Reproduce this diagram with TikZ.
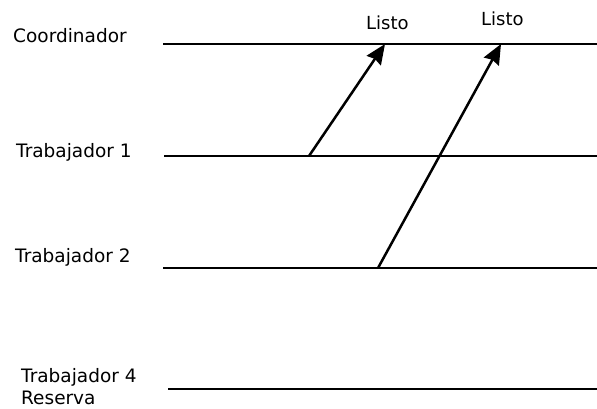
\documentclass[tikz,border=0pt]{standalone}
\usepackage{fontspec}
\setmainfont{DejaVu Sans}
\usetikzlibrary{arrows.meta}
\tikzset{proc/.style={line width=2.5pt},
  msg/.style={line width=2.5pt,-{Stealth[length=20pt,width=17pt,inset=2pt]}},
  lbl/.style={font=\fontsize{18.5}{22}\selectfont,inner sep=0pt,anchor=base west},
  ack/.style={font=\fontsize{18}{20}\selectfont,inner sep=0pt,anchor=base west}}

\begin{document}
\begin{tikzpicture}[x=1pt,y=-1pt]
  \useasboundingbox (0,0) rectangle (597,408);

  \node[lbl] (co) at (13,42.3) {Coordinador};
  \node[lbl] (w1) at (16,157.3) {Trabajador 1};
  \node[lbl] (w2) at (15,262.7) {Trabajador 2};
  \node[lbl,align=left] (w4) at (21,404) {Trabajador 4\\Reserva};

  \coordinate (co-a) at (163,44);  \coordinate (co-b) at (597,44);
  \coordinate (w1-a) at (164,156); \coordinate (w1-b) at (597,156);
  \coordinate (w2-a) at (163,268); \coordinate (w2-b) at (597,268);
  \coordinate (w4-a) at (168,389); \coordinate (w4-b) at (597,389);

  \draw[proc] (co-a) -- (co-b);
  \draw[proc] (w1-a) -- (w1-b);
  \draw[proc] (w2-a) -- (w2-b);
  \draw[proc] (w4-a) -- (w4-b);

  % ready messages to the coordinator
  \coordinate (s1) at (309,156);  \coordinate (r1) at (385,44);
  \coordinate (s2) at (378,268);  \coordinate (r2) at (501,44);
  \draw[msg] (s1) -- (r1);
  \draw[msg] (s2) -- (r2);

  \node[ack] (l1) at (366,29.3) {Listo};
  \node[ack] (l2) at (481,25) {Listo};
\end{tikzpicture}
\end{document}
